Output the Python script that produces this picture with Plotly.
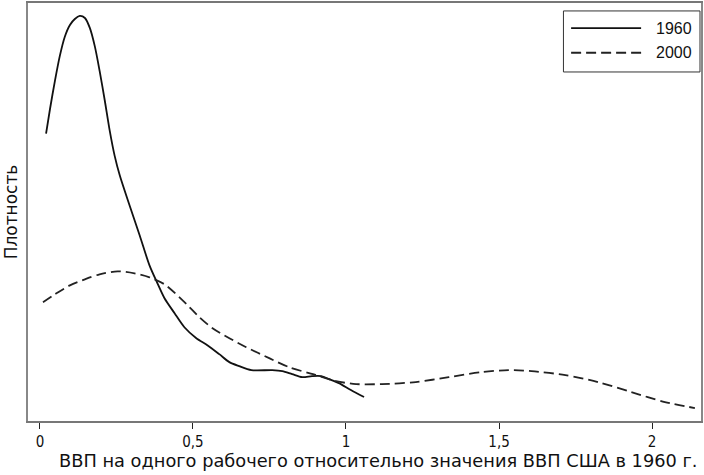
import plotly.graph_objects as go

# 1960 density curve
x1960 = [0.020, 0.033, 0.049, 0.065, 0.081, 0.098, 0.114, 0.130, 0.147, 0.163, 0.179, 0.195,
         0.212, 0.228, 0.244, 0.261, 0.293, 0.326, 0.358, 0.384, 0.407, 0.440, 0.472, 0.511,
         0.547, 0.586, 0.619, 0.651, 0.691, 0.759, 0.792, 0.824, 0.857, 0.889, 0.919, 0.945,
         0.977, 1.016, 1.059]
y1960 = [1.44, 1.565, 1.705, 1.83, 1.925, 1.985, 2.015, 2.03, 2.02, 1.97, 1.88, 1.755,
         1.605, 1.455, 1.33, 1.23, 1.08, 0.93, 0.78, 0.69, 0.615, 0.54, 0.47, 0.415,
         0.38, 0.335, 0.295, 0.275, 0.255, 0.255, 0.25, 0.235, 0.22, 0.225, 0.225, 0.21,
         0.19, 0.155, 0.12]

# 2000 density curve
x2000 = [0.010, 0.049, 0.098, 0.147, 0.195, 0.254, 0.309, 0.358, 0.407, 0.456, 0.489, 0.521,
         0.564, 0.619, 0.674, 0.749, 0.814, 0.902, 0.967, 1.033, 1.117, 1.228, 1.336, 1.443,
         1.531, 1.606, 1.717, 1.824, 1.932, 2.042, 2.140]
y2000 = [0.595, 0.635, 0.68, 0.71, 0.735, 0.75, 0.74, 0.72, 0.685, 0.62, 0.57, 0.52,
         0.465, 0.415, 0.37, 0.315, 0.27, 0.23, 0.20, 0.185, 0.185, 0.195, 0.22, 0.245,
         0.255, 0.25, 0.23, 0.195, 0.145, 0.095, 0.065]

series_names = ["1960", "2000"]
tick_vals = [0, 0.5, 1, 1.5, 2]
tick_text = ["0", "0,5", "1", "1,5", "2"]
x_title = "ВВП на одного рабочего относительно значения ВВП США в 1960 г."
y_title = "Плотность"

TICKFONT = "DejaVu Sans Condensed, DejaVu Sans, sans-serif"
TITLEFONT = "DejaVu Sans, sans-serif"
LEGFONT = "Liberation Sans, Arial, sans-serif"

line_styles = [dict(color="#111111", width=1.8),
               dict(color="#222222", width=1.8, dash="10px,5px")]

fig = go.Figure()
fig.add_trace(go.Scatter(x=x1960, y=y1960, mode="lines", name=series_names[0],
                         line=dict(**line_styles[0], shape="spline", smoothing=0.8)))
fig.add_trace(go.Scatter(x=x2000, y=y2000, mode="lines", name=series_names[1],
                         line=dict(**line_styles[1], shape="spline", smoothing=0.8)))

# custom legend box (keys drawn as long lines as in the reference)
shapes = [dict(type="rect", xref="paper", yref="paper", x0=0.7956, x1=0.9985,
               y0=0.835, y1=0.981, line=dict(color="#333333", width=1),
               fillcolor="white", layer="above")]
annotations = []
leg_y = [0.940, 0.881]
for name, st, yy in zip(series_names, line_styles, leg_y):
    shapes.append(dict(type="line", xref="paper", yref="paper", x0=0.807, x1=0.911,
                       y0=yy, y1=yy, line=dict(color=st["color"], width=st["width"],
                                               dash=st.get("dash", "solid")),
                       layer="above"))
    annotations.append(dict(text=name, xref="paper", yref="paper", x=0.930, y=yy,
                            xanchor="left", yanchor="middle", showarrow=False,
                            font=dict(family=LEGFONT, size=16, color="#111111")))

# x-axis title (placed slightly right of centre as in the reference)
annotations.append(dict(text=x_title, xref="paper", yref="paper", x=0.5215, y=-0.0955,
                        xanchor="center", yanchor="middle", showarrow=False,
                        font=dict(family=TITLEFONT, size=17.8, color="#111111")))

fig.update_layout(
    width=704, height=475,
    margin=dict(l=28, r=1, t=2, b=54),
    paper_bgcolor="white", plot_bgcolor="white",
    font=dict(family=TITLEFONT, size=15, color="#111111"),
    showlegend=False,
    shapes=shapes,
    annotations=annotations,
    xaxis=dict(range=[-0.039, 2.160], tickvals=tick_vals, ticktext=tick_text,
               ticks="outside", ticklen=6, tickcolor="#222222", showgrid=False,
               zeroline=False, showline=True, linecolor="#777777", linewidth=1.5,
               mirror=True, tickfont=dict(size=15, family=TICKFONT)),
    yaxis=dict(range=[0, 2.095], showticklabels=False, ticks="", showgrid=False,
               zeroline=False, showline=True, linecolor="#888888", linewidth=1.5,
               mirror=True,
               title=dict(text=y_title, font=dict(size=17, family=TITLEFONT), standoff=4)),
)

fig.write_html("out.html")
